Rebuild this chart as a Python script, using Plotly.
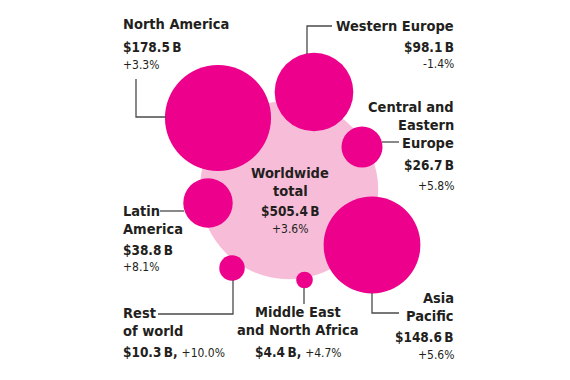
import math
import plotly.graph_objects as go

# ---- data ----
regions = ["North America", "Western Europe", "Central and Eastern Europe", "Latin America",
           "Rest of world", "Middle East and North Africa", "Asia Pacific"]
values = [178.5, 98.1, 26.7, 38.8, 10.3, 4.4, 148.6]          # $ billions
growth = [3.3, -1.4, 5.8, 8.1, 10.0, 4.7, 5.6]                 # % change
total_value = 505.4
total_growth = 3.6
label_lines = [["North America"], ["Western Europe"], ["Central and", "Eastern", "Europe"],
               ["Latin", "America"], ["Rest", "of world"], ["Middle East", "and North Africa"],
               ["Asia", "Pacific"]]

# ---- layout (pixel positions of bubble centres / labels) ----
centers = [(218, 118), (314, 92), (362, 147), (208, 203), (232, 268), (304.5, 280), (372, 245)]
total_center = (289, 190)
K = 3.97  # px radius per sqrt($B)

MAG = "#EC008C"
PINK = "#F7BDD8"
TXT = "#231F20"
FONT = "DejaVu Sans Condensed, Liberation Sans Narrow, Arial Narrow, sans-serif"
NAME_SIZE = 14.5
VAL_SIZE = 13.5
PCT_SIZE = 12

def fmt_val(v):
    return f"${v:.1f}\u2009B"

def fmt_g(g):
    return f"{g:+.1f}%"

fig = go.Figure()
fig.add_trace(go.Scatter(x=[total_center[0]], y=[total_center[1]], mode="markers",
                         marker=dict(size=2 * K * math.sqrt(total_value), color=PINK, opacity=1,
                                     line=dict(width=0)),
                         hoverinfo="skip"))
fig.add_trace(go.Scatter(x=[c[0] for c in centers], y=[c[1] for c in centers], mode="markers",
                         marker=dict(size=[2 * K * math.sqrt(v) for v in values], color=MAG, opacity=1,
                                     line=dict(width=0)),
                         text=regions, hoverinfo="text"))

anns = []
def line(x, y, text, anchor, kind="name"):
    size = {"name": NAME_SIZE, "val": VAL_SIZE, "pct": PCT_SIZE}[kind]
    t = text if kind == "pct" else f"<b>{text}</b>"
    anns.append(dict(x=x, y=y, xref="x", yref="y", text=t, showarrow=False,
                     xanchor=anchor, yanchor="middle",
                     font=dict(family=FONT, size=size, color=TXT)))

# label specs: (x, anchor, name line ys, value y, growth y or None if inline)
label_spec = [
    (121, "left", [24], 47, 65),
    (456, "right", [26], 47, 64),
    (456, "right", [107, 125, 143], 165, 186),
    (121, "left", [211, 229], 250, 267),
    (121, "left", [313, 331], 352, None),
    (298, "center", [312, 330], 352, None),
    (456, "right", [298, 316], 337, 355),
]
for i, (x, anc, ys, vy, gy) in enumerate(label_spec):
    for t, y in zip(label_lines[i], ys):
        line(x, y, t, anc)
    if gy is None:
        anns.append(dict(x=x, y=vy, xref="x", yref="y", showarrow=False, xanchor=anc, yanchor="middle",
                         text=f"<b>{fmt_val(values[i])},</b> <span style='font-size:{PCT_SIZE}px'>{fmt_g(growth[i])}</span>",
                         font=dict(family=FONT, size=VAL_SIZE, color=TXT)))
    else:
        line(x, vy, fmt_val(values[i]), anc, "val")
        line(x, gy, fmt_g(growth[i]), anc, "pct")

# worldwide total
line(290, 173, "Worldwide", "center")
line(290, 191, "total", "center")
line(290, 211, fmt_val(total_value), "center", "val")
line(290, 229, fmt_g(total_growth), "center", "pct")

# leader lines
leaders = [
    "M 136 79 L 136 117 L 166 117",
    "M 332 26 L 307 26 L 307 54",
    "M 382 142 L 399 142",
    "M 160 211 L 184 211",
    "M 233 280 L 233 314 L 158 314",
    "M 304 288 L 304 304",
    "M 372 293 L 372 313 L 399 313",
]
shapes = [dict(type="path", path=p, xref="x", yref="y", line=dict(color="#4A4A4A", width=1.3))
          for p in leaders]

fig.update_layout(
    width=570, height=380, margin=dict(l=0, r=0, t=0, b=0),
    paper_bgcolor="white", plot_bgcolor="white", showlegend=False,
    xaxis=dict(range=[0, 570], visible=False, fixedrange=True),
    yaxis=dict(range=[380, 0], visible=False, fixedrange=True),
    annotations=anns, shapes=shapes,
)
fig.write_html("out.html", config={"displayModeBar": False},
               post_script="document.body.style.margin='0';")
